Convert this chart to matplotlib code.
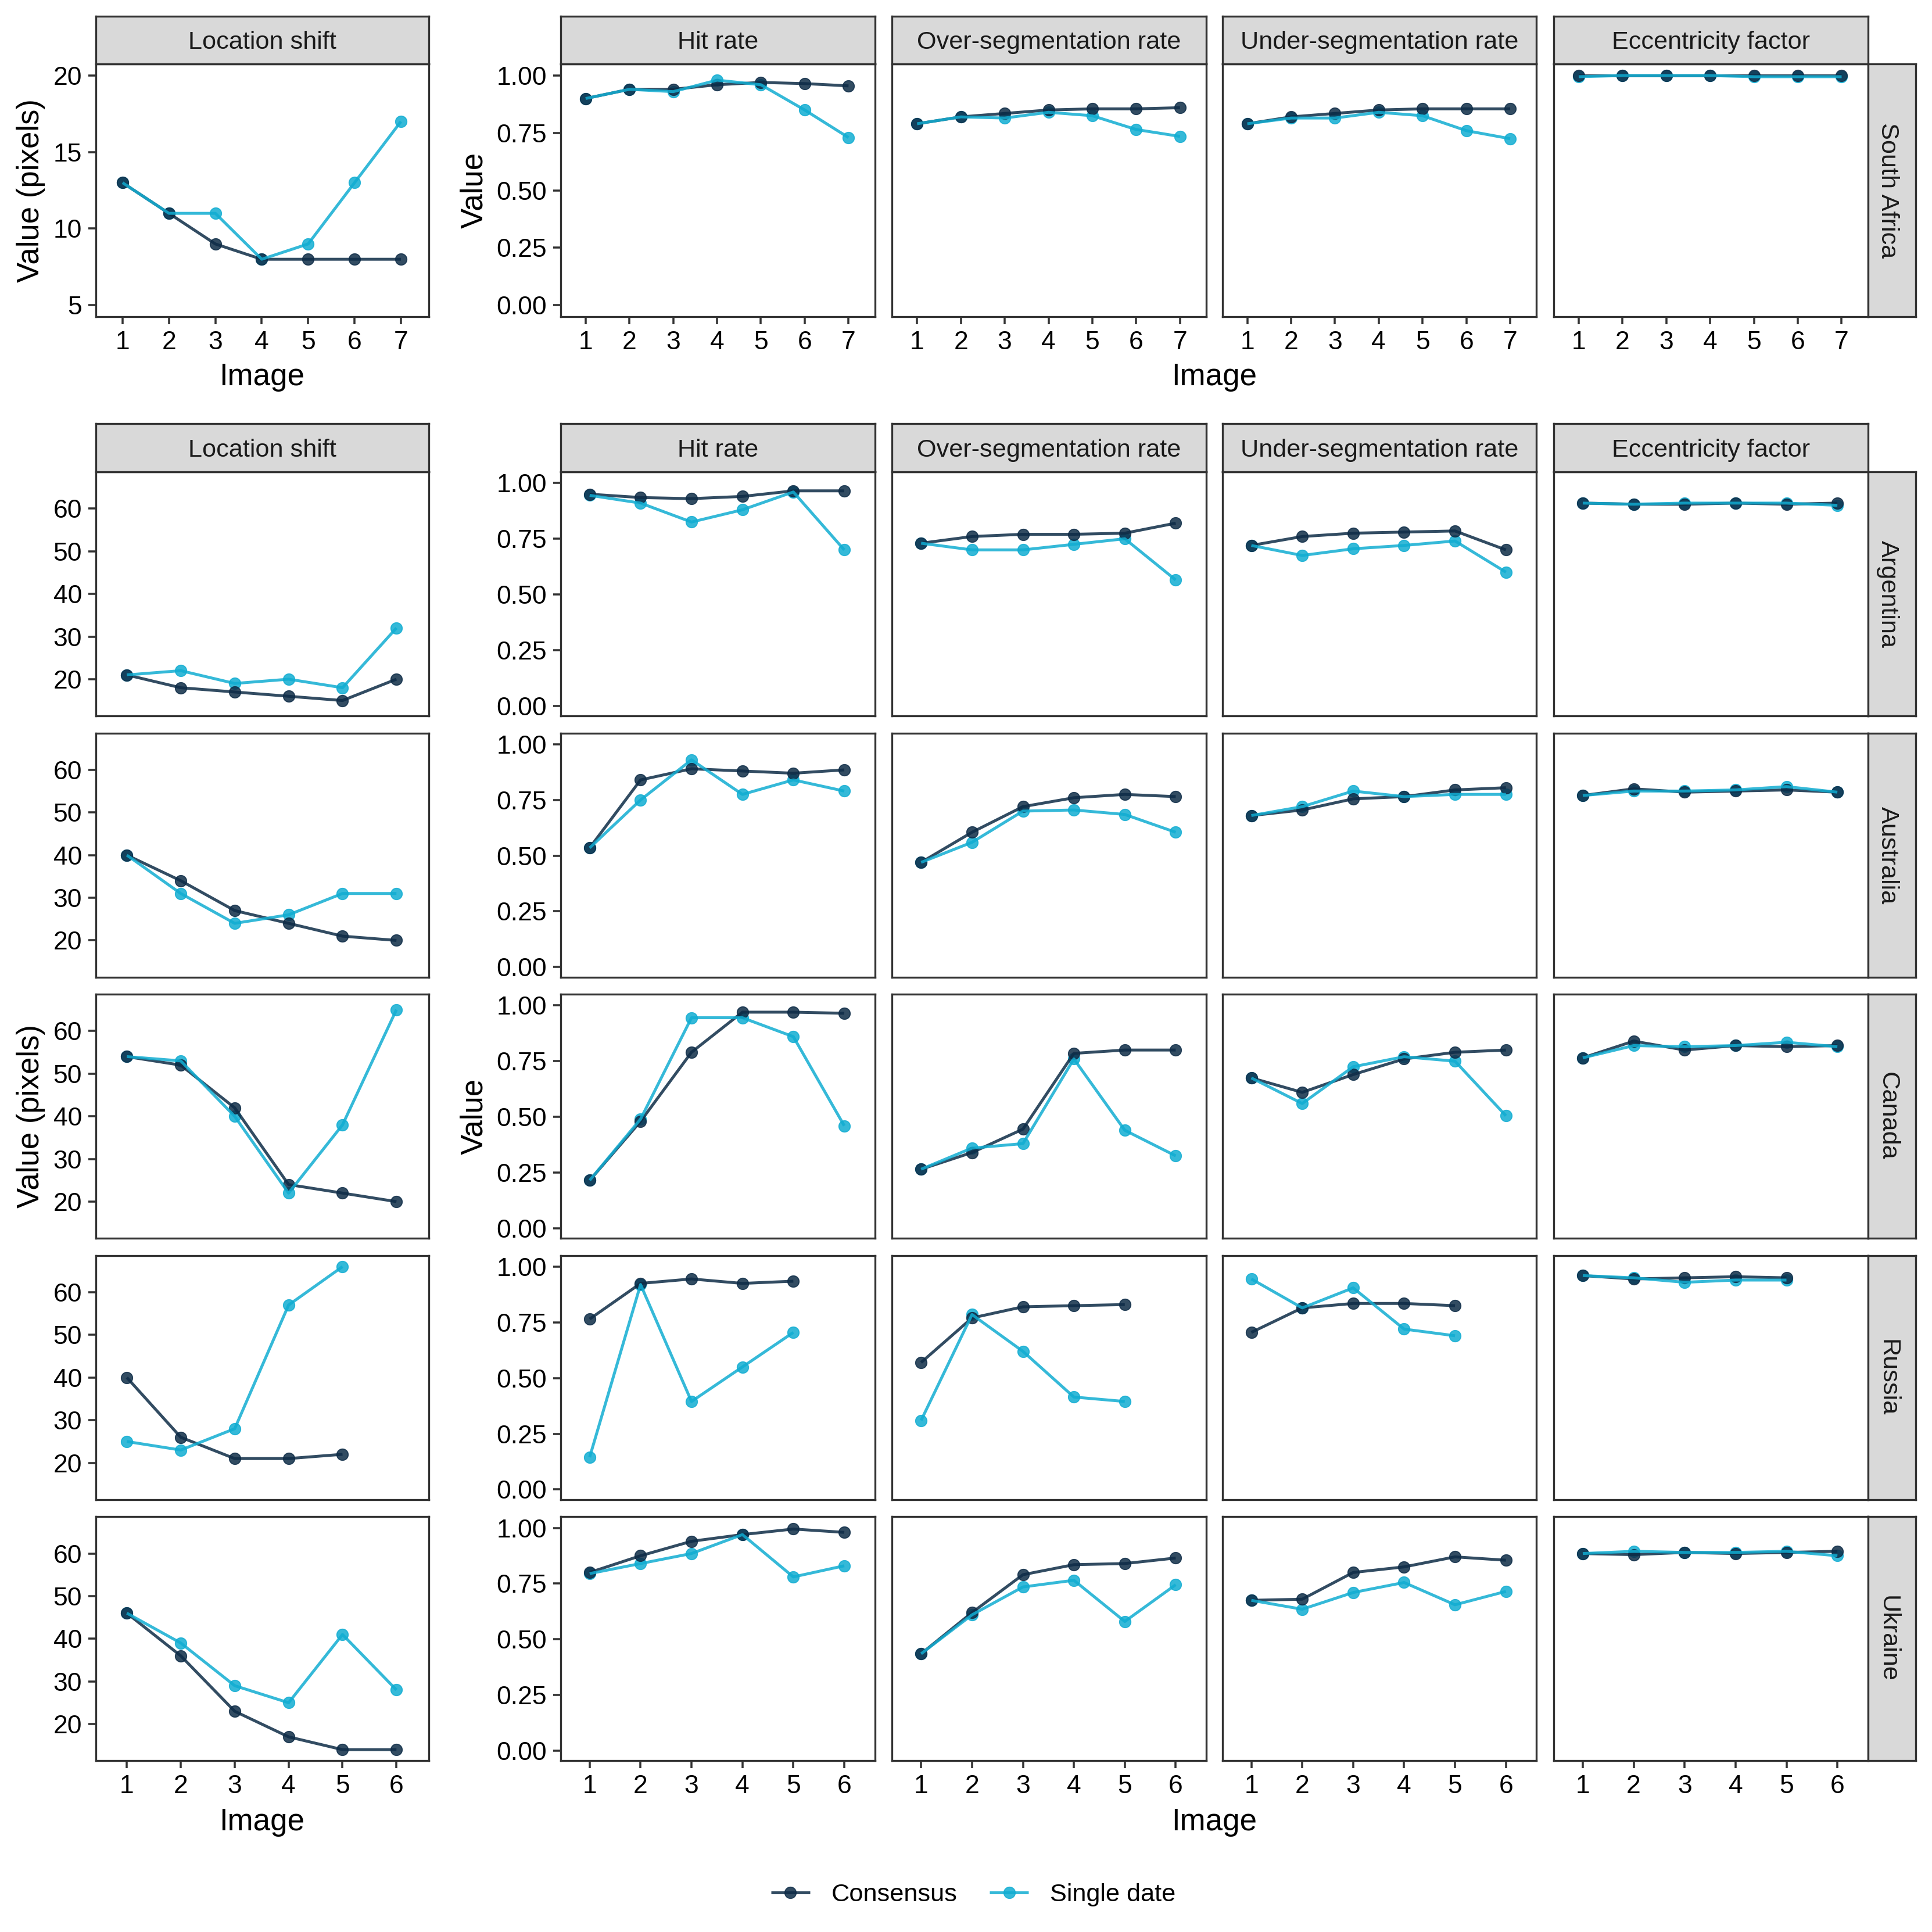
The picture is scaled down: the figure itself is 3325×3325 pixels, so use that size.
import matplotlib
matplotlib.use("Agg")
import matplotlib.pyplot as plt
from matplotlib.lines import Line2D

plt.rcParams['font.family'] = ['Liberation Sans', 'DejaVu Sans']

METRICS = ["Location shift", "Hit rate", "Over-segmentation rate", "Under-segmentation rate", "Eccentricity factor"]
COUNTRIES = ["South Africa", "Argentina", "Australia", "Canada", "Russia", "Ukraine"]
SERIES = ["Consensus", "Single date"]

# Each country: location shift, hit rate, over-seg, under-seg, eccentricity
south_africa_cons = [[13, 11, 9, 8, 8, 8, 8],
                     [.90, .94, .94, .96, .97, .965, .955],
                     [.79, .82, .835, .85, .855, .855, .86],
                     [.79, .82, .835, .85, .855, .855, .855],
                     [1.0, 1.0, 1.0, 1.0, 1.0, 1.0, 1.0]]
south_africa_single = [[13, 11, 11, 8, 9, 13, 17],
                       [.90, .94, .93, .98, .96, .85, .73],
                       [.79, .82, .815, .84, .825, .765, .735],
                       [.79, .815, .815, .84, .825, .76, .725],
                       [.995, 1.0, 1.0, 1.0, .995, .995, .995]]
argentina_cons = [[21, 18, 17, 16, 15, 20],
                  [.95, .935, .93, .94, .965, .965],
                  [.73, .76, .77, .77, .775, .82],
                  [.72, .76, .775, .78, .785, .70],
                  [.91, .905, .905, .91, .905, .91]]
argentina_single = [[21, 22, 19, 20, 18, 32],
                    [.945, .91, .825, .88, .96, .70],
                    [.73, .70, .70, .725, .75, .565],
                    [.72, .675, .705, .72, .74, .60],
                    [.91, .905, .91, .91, .91, .90]]
australia_cons = [[40, 34, 27, 24, 21, 20],
                  [.535, .84, .89, .88, .87, .885],
                  [.47, .605, .72, .76, .775, .765],
                  [.68, .705, .755, .765, .795, .805],
                  [.77, .80, .785, .79, .795, .785]]
australia_single = [[40, 31, 24, 26, 31, 31],
                    [.535, .75, .93, .775, .84, .79],
                    [.47, .56, .70, .705, .685, .605],
                    [.68, .72, .79, .765, .775, .775],
                    [.77, .79, .79, .795, .81, .785]]
canada_cons = [[54, 52, 42, 24, 22, 20],
               [.215, .48, .79, .97, .97, .965],
               [.265, .34, .445, .785, .80, .80],
               [.675, .61, .69, .76, .79, .80],
               [.765, .84, .80, .82, .815, .82]]
canada_single = [[54, 53, 40, 22, 38, 65],
                 [.215, .49, .945, .945, .86, .46],
                 [.265, .36, .38, .76, .44, .325],
                 [.675, .56, .725, .77, .75, .505],
                 [.765, .82, .815, .82, .835, .815]]
russia_cons = [[40, 26, 21, 21, 22],
               [.765, .925, .945, .925, .935],
               [.57, .77, .82, .825, .83],
               [.705, .815, .835, .835, .825],
               [.96, .945, .95, .955, .95]]
russia_single = [[25, 23, 28, 57, 66],
                 [.145, .92, .395, .55, .705],
                 [.31, .785, .62, .415, .395],
                 [.945, .815, .905, .72, .69],
                 [.96, .95, .93, .94, .94]]
ukraine_cons = [[46, 36, 23, 17, 14, 14],
                [.80, .875, .94, .97, .995, .98],
                [.435, .62, .79, .835, .84, .865],
                [.675, .68, .80, .825, .87, .855],
                [.885, .88, .89, .885, .89, .895]]
ukraine_single = [[46, 39, 29, 25, 41, 28],
                  [.795, .84, .885, .97, .78, .83],
                  [.435, .61, .735, .765, .58, .745],
                  [.675, .635, .71, .755, .655, .715],
                  [.885, .895, .89, .89, .895, .875]]

CONS_DATA = [south_africa_cons, argentina_cons, australia_cons, canada_cons, russia_cons, ukraine_cons]
SINGLE_DATA = [south_africa_single, argentina_single, australia_single, canada_single, russia_single, ukraine_single]

RATE_TICKS = [0, .25, .5, .75, 1.0]
RATE_LABELS = ["0.00", "0.25", "0.50", "0.75", "1.00"]
LOC_TICKS_TOP = [5, 10, 15, 20]
LOC_TICKS_LOW = [20, 30, 40, 50, 60]

W = H = 3325
S = 3325 / 1568.0
C_COL, S_COL = "#0E2C47", "#11ADD2"
ALPHA = 0.85
BORDER = "#333333"
STRIP = "#D9D9D9"
LW, MS = 1.2, 4.7
TICK_FS, LAB_FS, STRIP_FS, LEG_FS = 10.7, 12.7, 10.4, 10.4

fig = plt.figure(figsize=(W / 300, H / 300), dpi=300, facecolor="white")


def mkax(x0, y0, x1, y1):
    return fig.add_axes([x0 * S / W, 1 - y1 * S / H, (x1 - x0) * S / W, (y1 - y0) * S / H])


def fx(x):
    return x * S / W


def fy(y):
    return 1 - y * S / H


def style(ax):
    for s in ax.spines.values():
        s.set_linewidth(0.8)
        s.set_color(BORDER)
    ax.tick_params(length=3.2, width=0.85, color=BORDER, labelsize=TICK_FS, pad=2.6, labelcolor="black")


def strip(x0, y0, x1, y1, text, rot=0):
    a = mkax(x0, y0, x1, y1)
    a.set_facecolor(STRIP)
    a.set_xticks([])
    a.set_yticks([])
    for s in a.spines.values():
        s.set_linewidth(0.8)
        s.set_color(BORDER)
    tx, ty = (0.41, 0.5) if rot else (0.5, 0.45)
    a.text(tx, ty, text, transform=a.transAxes, ha="center", va="center",
           rotation=rot, fontsize=STRIP_FS, color="#1A1A1A")


COLS = [(78, 348), (455, 710), (724, 979), (992, 1247), (1261, 1516)]
ROWS = [(52, 257), (383, 581), (595, 793), (807, 1005), (1019, 1217), (1231, 1429)]

for r, country in enumerate(COUNTRIES):
    y0, y1 = ROWS[r]
    n_img = 7 if r == 0 else 6
    bottom = r in (0, 5)
    for c, metric in enumerate(METRICS):
        x0, x1 = COLS[c]
        ax = mkax(x0, y0, x1, y1)
        cons = CONS_DATA[r][c]
        sing = SINGLE_DATA[r][c]
        # points lie under the lines; consensus points above single-date points
        for vals, col, zp, zl in ((sing, S_COL, 2.0, 3.1), (cons, C_COL, 2.1, 3.0)):
            xs = list(range(1, len(vals) + 1))
            ax.plot(xs, vals, ls="none", marker="o", ms=MS, mfc=col, mec=col, mew=0.4,
                    alpha=ALPHA, zorder=zp)
            ax.plot(xs, vals, color=col, lw=LW, alpha=ALPHA, solid_capstyle="butt", zorder=zl)
        ax.set_xlim(0.43, n_img + 0.6)
        if c == 0:
            if r == 0:
                ax.set_ylim(4.25, 20.75)
                ax.set_yticks(LOC_TICKS_TOP)
            else:
                ax.set_ylim(11.4, 68.6)
                ax.set_yticks(LOC_TICKS_LOW)
        else:
            ax.set_ylim(-0.05 if r == 0 else -0.045, 1.05)
            if c == 1:
                ax.set_yticks(RATE_TICKS)
                ax.set_yticklabels(RATE_LABELS)
            else:
                ax.set_yticks([])
        if bottom:
            ax.set_xticks(range(1, n_img + 1))
        else:
            ax.set_xticks([])
        style(ax)
        if r in (0, 1):
            strip(x0, y0 - 39, x1, y0, metric)
    strip(1516, y0, 1555, y1, country, rot=-90)

# axis titles
for yc in (154.5, 906):
    fig.text(fx(25), fy(yc), "Value (pixels)", rotation=90, ha="center", va="center", fontsize=LAB_FS)
    fig.text(fx(385), fy(yc), "Value", rotation=90, ha="center", va="center", fontsize=LAB_FS)
for yc in (306, 1479):
    fig.text(fx(212.5), fy(yc), "Image", ha="center", va="center", fontsize=LAB_FS)
    fig.text(fx(985.5), fy(yc), "Image", ha="center", va="center", fontsize=LAB_FS)

handles = [Line2D([], [], color=col, lw=LW, marker="o", ms=MS, mfc=col, mec=col, mew=0.4, alpha=ALPHA,
                  solid_capstyle="butt") for col in (C_COL, S_COL)]
fig.legend(handles, SERIES, loc="center", bbox_to_anchor=(1675 / W, 1 - 3261 / H), ncol=2, frameon=False,
           fontsize=LEG_FS, handlelength=1.55, handletextpad=0.85, columnspacing=1.28,
           borderpad=0, borderaxespad=0, numpoints=1)

fig.savefig("out.png", dpi=300, facecolor="white")
